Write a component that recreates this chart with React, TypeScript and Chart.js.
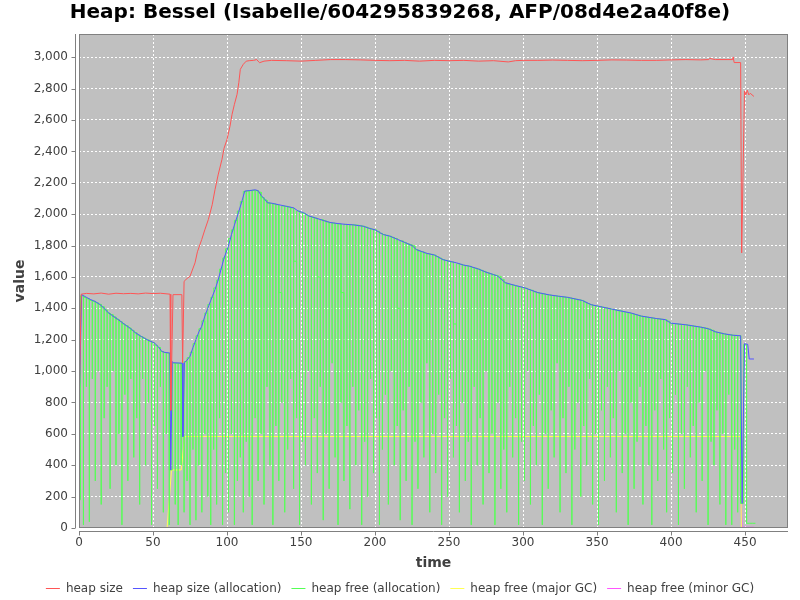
// @ts-nocheck
import React, { useEffect, useRef } from "react";
import { Chart, registerables } from "chart.js";

Chart.register(...registerables);

const FONT = "DejaVu Sans";
const TITLE = "Heap: Bessel (Isabelle/604295839268, AFP/08d4e2a40f8e)";

// heap size
const heapSizeTime = [
  0, 1.5, 5, 10, 15, 20, 25, 30, 35, 40, 45, 50, 55, 61.5, 62, 63.5, 69.5, 70, 71, 73,
  75, 78.4, 80, 82.9, 85, 87.4, 90, 91.9, 94, 96.6, 98, 100, 102, 103.4, 105, 106.8, 108, 109, 111, 113,
  115, 118, 120, 122, 125, 130, 140, 150, 160, 170, 180, 190, 200, 210, 220, 230, 240, 250, 260, 270,
  280, 290, 295, 300, 310, 320, 330, 340, 350, 360, 370, 380, 390, 400, 410, 420, 425.5, 426, 430, 441.5,
  442, 442.6, 447, 447.7, 449.6, 450.5, 451.5, 452.5, 453.5, 456,
];
const heapSize = [
  750, 1490, 1495, 1492, 1497, 1490, 1496, 1493, 1495, 1492, 1497, 1494, 1496, 1490, 750, 1487, 1487, 1053, 1572, 1590,
  1604, 1690, 1760, 1838, 1900, 1966, 2060, 2157, 2250, 2349, 2420, 2476, 2560, 2636, 2700, 2764, 2840, 2923, 2955, 2975,
  2978, 2980, 2985, 2965, 2975, 2980, 2978, 2975, 2980, 2985, 2985, 2983, 2980, 2978, 2980, 2975, 2980, 2978, 2980, 2975,
  2978, 2970, 2978, 2980, 2980, 2982, 2980, 2978, 2980, 2983, 2982, 2980, 2980, 2983, 2985, 2983, 2985, 2992, 2985, 2985,
  3002, 2966, 2966, 1753, 2785, 2760, 2790, 2760, 2770, 2750,
];

// heap size (allocation)
const allocTime = [
  0, 1.8, 5, 8, 10.8, 14, 17, 19.8, 23, 27, 31, 35, 38, 42, 46, 51, 54, 56, 58, 61.4,
  62, 63, 64, 69.8, 70.2, 71.2, 73, 75, 77, 79, 81, 82.9, 85, 87, 89, 91.9, 94, 96, 98, 100.9,
  103, 105, 107.7, 110, 112, 115, 119, 121, 123, 125, 127.5, 130, 135, 140, 145, 148, 151.6, 155, 160, 165,
  169.6, 175, 180, 185, 192, 196, 200, 205.6, 210, 215, 220, 225, 228, 235, 240, 246, 250, 255, 260, 264,
  270, 275, 280, 283, 288, 295, 301, 310, 318, 324, 330, 340, 346, 351, 360, 365, 373, 380, 390, 396,
  400, 410, 420, 425, 430, 436, 442, 447, 448, 449.6, 451.8, 452.8, 456,
];
const allocSize = [
  750, 1487, 1470, 1455, 1444, 1425, 1400, 1372, 1350, 1325, 1296, 1270, 1245, 1221, 1200, 1179, 1150, 1125, 1119, 1115,
  370, 1060, 1053, 1050, 583, 1053, 1070, 1094, 1150, 1200, 1250, 1285, 1350, 1400, 1450, 1519, 1580, 1650, 1720, 1795,
  1870, 1930, 2009, 2080, 2147, 2150, 2155, 2150, 2120, 2100, 2072, 2070, 2060, 2050, 2040, 2020, 2010, 1990, 1975, 1960,
  1947, 1940, 1935, 1932, 1923, 1910, 1900, 1870, 1860, 1840, 1820, 1800, 1774, 1750, 1740, 1710, 1700, 1690, 1675, 1668,
  1650, 1630, 1615, 1604, 1563, 1545, 1531, 1500, 1485, 1477, 1470, 1450, 1423, 1413, 1395, 1385, 1370, 1350, 1335, 1328,
  1305, 1295, 1280, 1270, 1250, 1237, 1228, 1225, 157, 1175, 1170, 1077, 1077,
];

// heap free (allocation): one sample per time unit from t = 0,
// even samples are the plateaus, odd samples the dips between them
const FREE_STEP = 1;
const allocFree = [
  180, 1050, 1480, 20, 1470, 900, 1460, 40, 1450, 950,
  1445, 300, 1435, 1000, 1425, 150, 1410, 700, 1390, 900,
  1370, 250, 1360, 1000, 1345, 400, 1330, 600, 1315, 20,
  1300, 850, 1290, 300, 1275, 950, 1260, 450, 1245, 700,
  1230, 150, 1220, 950, 1210, 400, 1200, 800, 1190, 20,
  1180, 650, 1165, 250, 1150, 900, 1125, 100, 1118, 600,
  1115, 20, 370, 800, 1050, 150, 1050, 20, 1050, 400,
  583, 100, 1060, 300, 1085, 20, 1120, 500, 1175, 50,
  1225, 400, 1270, 100, 1320, 600, 1370, 200, 1425, 20,
  1470, 500, 1530, 150, 1580, 700, 1650, 20, 1720, 350,
  1780, 100, 1845, 600, 1900, 20, 1960, 300, 2020, 450,
  2080, 100, 2145, 550, 2148, 200, 2150, 20, 2152, 700,
  2150, 300, 2140, 600, 2105, 150, 2090, 900, 2072, 400,
  2068, 20, 2065, 650, 2060, 300, 1500, 800, 2052, 100,
  2050, 500, 2045, 950, 2040, 250, 1700, 700, 2020, 20,
  2012, 550, 2005, 400, 1995, 1000, 1985, 150, 1980, 700,
  1975, 350, 1600, 900, 1965, 50, 1958, 600, 1950, 250,
  1946, 1050, 1943, 450, 1940, 20, 1938, 800, 1500, 300,
  1935, 650, 1934, 120, 1933, 900, 1932, 400, 1930, 750,
  1926, 20, 1923, 550, 1918, 200, 1910, 950, 1905, 350,
  1900, 700, 1890, 20, 1878, 500, 1870, 850, 1865, 150,
  1860, 1000, 1852, 400, 1845, 650, 1400, 50, 1830, 750,
  1820, 300, 1812, 900, 1805, 20, 1798, 550, 1774, 250,
  1765, 800, 1760, 450, 1752, 1050, 1748, 100, 1744, 600,
  1740, 350, 1730, 850, 1720, 20, 1710, 700, 1705, 200,
  1700, 950, 1696, 450, 1300, 650, 1685, 100, 1680, 800,
  1675, 300, 1672, 550, 1668, 20, 1660, 900, 1655, 400,
  1650, 700, 1642, 150, 1635, 1000, 1628, 350, 1620, 600,
  1615, 20, 1610, 800, 1604, 250, 1585, 500, 1563, 100,
  1555, 900, 1550, 450, 1547, 700, 1541, 20, 1536, 550,
  1533, 300, 1528, 1000, 1520, 150, 1515, 650, 1505, 400,
  1500, 850, 1496, 20, 1492, 600, 1488, 250, 1485, 750,
  1482, 450, 1480, 1050, 1477, 100, 1475, 700, 1472, 350,
  1470, 900, 1466, 20, 1462, 500, 1458, 800, 1454, 200,
  1450, 650, 1440, 400, 1430, 950, 1423, 150, 1418, 600,
  1415, 20, 1411, 750, 1407, 300, 1403, 900, 1399, 450,
  1395, 700, 1391, 100, 1387, 1000, 1384, 350, 1378, 600,
  1374, 20, 1370, 800, 1365, 250, 1360, 550, 1355, 900,
  1350, 150, 1347, 650, 1344, 400, 1341, 20, 1338, 750,
  1335, 300, 1332, 950, 1330, 500, 1328, 100, 1318, 700,
  1305, 350, 1303, 850, 1301, 20, 1299, 600, 1297, 250,
  1295, 900, 1292, 450, 1289, 650, 1286, 100, 1283, 800,
  1280, 300, 1277, 1000, 1273, 20, 1268, 550, 1260, 400,
  1250, 750, 1246, 150, 1242, 600, 1237, 20, 1234, 850,
  1231, 20, 1229, 500, 1228, 100, 1226, 157, 157, 1170,
  1170, 1170, 30, 30, 30, 30, 30,
];

// heap free (major GC)
const majorTime = [0.5, 59.5, 62.5, 69, 71.5, 447, 447.5, 456];
const majorFree = [0, 0, 370, 370, 583, 583, 0, 0];

// heap free (minor GC)
const minorTime = [447.5, 448, 456];
const minorFree = [157, 5, 5];

const xTickValues = [0, 50, 100, 150, 200, 250, 300, 350, 400, 450];
const yTickValues = [0, 200, 400, 600, 800, 1000, 1200, 1400, 1600, 1800, 2000, 2200, 2400, 2600, 2800, 3000];

const toPoints = (ts, vs) => ts.map((t, i) => ({ x: t, y: vs[i] }));

// each plateau is held until the next dip, the dips go straight down and back up
const sawPoints = (vs, step) => {
  const pts = [];
  vs.forEach((v, i) => {
    const t = i * step;
    if (i % 2 === 1) pts.push({ x: t, y: v });
    else {
      pts.push({ x: t - step, y: v });
      pts.push({ x: t + step, y: v });
    }
  });
  return pts;
};

const plotFrame = {
  id: "plotFrame",
  beforeDraw(chart) {
    const { ctx, chartArea: a } = chart;
    ctx.save();
    ctx.fillStyle = "#c0c0c0";
    ctx.fillRect(a.left, a.top, a.right - a.left, a.bottom - a.top);
    ctx.restore();
  },
  afterDraw(chart) {
    const { ctx, chartArea: a, scales } = chart;
    ctx.save();
    ctx.strokeStyle = "#808080";
    ctx.lineWidth = 1;
    const l = Math.round(a.left);
    const t = Math.round(a.top);
    const b = Math.round(a.bottom);
    const r = Math.round(a.right);
    ctx.strokeRect(l + 0.5, t + 0.5, r - l - 1, b - t - 1);
    const ax = l - 3.5;
    const ay = b + 3.5;
    ctx.beginPath();
    ctx.moveTo(ax, t);
    ctx.lineTo(ax, b);
    ctx.moveTo(l, ay);
    ctx.lineTo(r, ay);
    for (const tick of scales.y.ticks) {
      const py = Math.round(scales.y.getPixelForValue(tick.value)) + 0.5;
      ctx.moveTo(ax - 4, py);
      ctx.lineTo(ax, py);
    }
    for (const tick of scales.x.ticks) {
      const px = Math.round(scales.x.getPixelForValue(tick.value)) + 0.5;
      ctx.moveTo(px, ay);
      ctx.lineTo(px, ay + 4);
    }
    ctx.stroke();
    ctx.restore();
  },
};

const tickFont = { family: FONT, size: 12 };
const axisTitleFont = { family: FONT, size: 14, weight: "bold" };

const line = (label, color, data) => ({
  label,
  data,
  borderColor: color,
  backgroundColor: color,
  borderWidth: 1,
  pointRadius: 0,
  fill: false,
  tension: 0,
});

const App: React.FC = () => {
  const canvasRef = useRef(null);

  useEffect(() => {
    if (!canvasRef.current) return;
    const chart = new Chart(canvasRef.current, {
      type: "line",
      data: {
        datasets: [
          line("heap size", "#ff5555", toPoints(heapSizeTime, heapSize)),
          line("heap size (allocation)", "#5555ff", toPoints(allocTime, allocSize)),
          line("heap free (allocation)", "#55ff55", sawPoints(allocFree, FREE_STEP)),
          line("heap free (major GC)", "#ffff55", toPoints(majorTime, majorFree)),
          line("heap free (minor GC)", "#ff55ff", toPoints(minorTime, minorFree)),
        ],
      },
      options: {
        responsive: false,
        animation: false,
        devicePixelRatio: 1,
        locale: "en-US",
        layout: { padding: { top: 0, right: 0, bottom: -4.5, left: 0 } },
        plugins: {
          title: {
            display: true,
            text: TITLE,
            color: "#000",
            font: { family: FONT, size: 20, weight: "bold" },
            padding: { top: 1, bottom: 9 },
          },
          legend: {
            position: "bottom",
            labels: {
              usePointStyle: true,
              pointStyle: "line",
              pointStyleWidth: 14,
              padding: 10,
              color: "#404040",
              font: { family: FONT, size: 12 },
            },
          },
          tooltip: { enabled: false },
        },
        scales: {
          x: {
            type: "linear",
            min: 0,
            max: 479,
            afterBuildTicks: (s) => {
              s.ticks = xTickValues.map((v) => ({ value: v }));
            },
            afterFit: (s) => {
              s.height = 44.5;
            },
            grid: { color: "#ffffff", drawTicks: false },
            border: { display: false, dash: [2, 2] },
            ticks: { padding: 8, color: "#404040", font: tickFont, maxRotation: 0 },
            title: { display: true, text: "time", color: "#404040", font: axisTitleFont, padding: { top: 0, bottom: 1 } },
          },
          y: {
            type: "linear",
            min: 0,
            max: 3148,
            afterBuildTicks: (s) => {
              s.ticks = yTickValues.map((v) => ({ value: v }));
            },
            afterFit: (s) => {
              s.width = 79;
            },
            grid: { color: "#ffffff", drawTicks: false },
            border: { display: false, dash: [2, 2] },
            ticks: { padding: 11, color: "#404040", font: tickFont },
            title: { display: true, text: "value", color: "#404040", font: axisTitleFont, padding: { top: 12, bottom: 0 } },
          },
          // empty strip on the right, so the plot ends 12px before the edge
          // while title and legend stay centred on the page
          pad: {
            type: "linear",
            position: "right",
            min: 0,
            max: 1,
            grid: { display: false, drawTicks: false },
            border: { display: false },
            ticks: { display: false },
            afterFit: (s) => {
              s.width = 12;
            },
          },
        },
      },
      plugins: [plotFrame],
    });
    return () => chart.destroy();
  }, []);

  return (
    <div style={{ position: "fixed", left: 0, top: 0, width: 800, height: 600, background: "#fff" }}>
      <canvas ref={canvasRef} width={800} height={600} style={{ display: "block" }} />
    </div>
  );
};

export default App;
